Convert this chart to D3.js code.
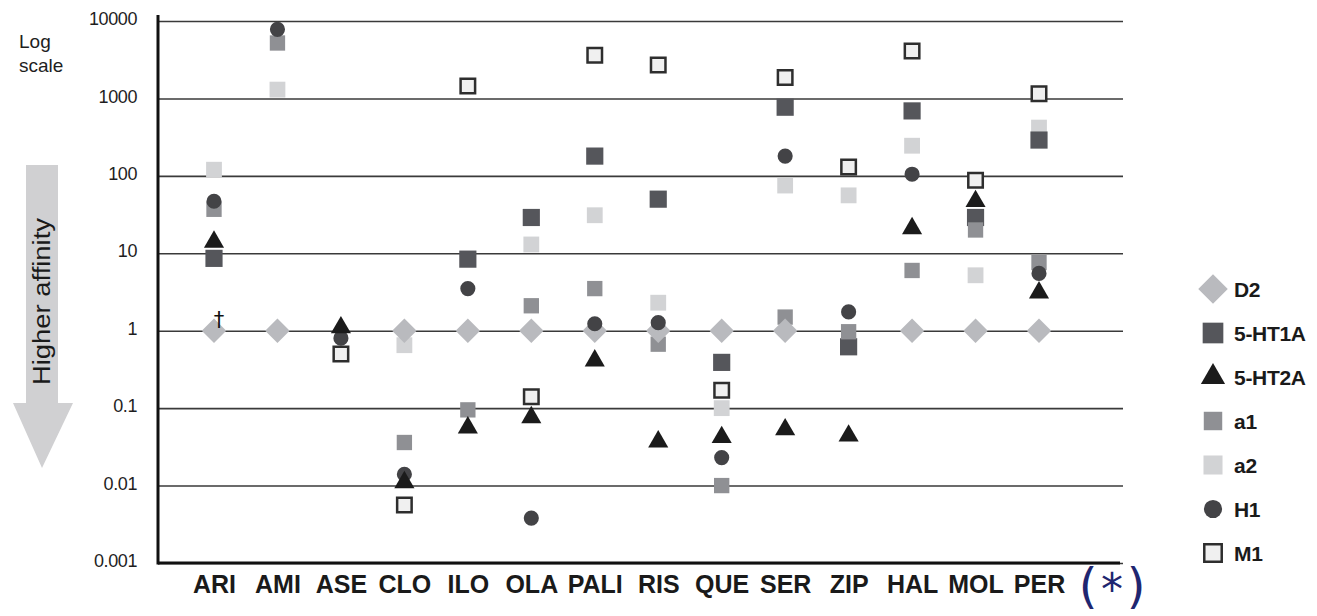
<!DOCTYPE html>
<html>
<head>
<meta charset="utf-8">
<script src="https://cdn.jsdelivr.net/npm/d3@7"></script>
<style>
  body { margin: 0; background: #fff; }
  svg { display: block; font-family: "Liberation Sans", Arial, sans-serif; }
</style>
</head>
<body>
<script>

// drugs on the x axis
var drugs = ["ARI", "AMI", "ASE", "CLO", "ILO", "OLA", "PALI", "RIS", "QUE", "SER", "ZIP", "HAL", "MOL", "PER"];

// affinity relative to D2 (log scale), null = not shown
var d2   = [1, 1, null, 1, 1, 1, 1, 1, 1, 1, null, 1, 1, 1];
var ht1a = [8.6, null, null, null, 8.4, 29, 180, 50, 0.39, 770, 0.62, 690, 29, 290];
var ht2a = [14, null, 1.1, 0.011, 0.056, 0.076, 0.41, 0.037, 0.042, 0.053, 0.044, 21, 47, 3.1];
var a1   = [37, 5200, null, 0.036, 0.095, 2.1, 3.5, 0.67, 0.01, 1.5, 0.97, 6, 20, 7.6];
var a2   = [120, 1300, null, 0.65, null, 13, 31, 2.3, 0.1, 75, 56, 245, 5.2, 420];
var h1   = [47, 7800, 0.8, 0.014, 3.5, 0.0038, 1.23, 1.27, 0.023, 180, 1.75, 105, null, 5.5];
var m1   = [null, null, 0.5, 0.0056, 1450, 0.14, 3600, 2700, 0.17, 1860, 130, 4100, 88, 1150];

var yTicks = [0.001, 0.01, 0.1, 1, 10, 100, 1000, 10000];
var yTickLabels = ["0.001", "0.01", "0.1", "1", "10", "100", "1000", "10000"];

var legendNames = ["D2", "5-HT1A", "5-HT2A", "a1", "a2", "H1", "M1"];

var width = 1317, height = 616;
var margin = { top: 21, right: 194, bottom: 53, left: 158 };

var svg = d3.select("body").append("svg")
  .attr("width", width)
  .attr("height", height);

var xScale = d3.scalePoint()
  .domain(drugs)
  .range([214, 1039]);

var yScale = d3.scaleLog()
  .domain([0.001, 10000])
  .range([height - margin.bottom, margin.top]);

// marker styles
var styles = {
  "D2":     { shape: d3.symbolSquare,   size: 300, fill: "#b9babe", rotate: 45 },
  "5-HT1A": { shape: d3.symbolSquare,   size: 295, fill: "#55565b" },
  "5-HT2A": { shape: d3.symbolTriangle, size: 175, fill: "#1b1b1b" },
  "a1":     { shape: d3.symbolSquare,   size: 235, fill: "#8f9094" },
  "a2":     { shape: d3.symbolSquare,   size: 250, fill: "#d2d3d5" },
  "H1":     { shape: d3.symbolCircle,   size: 180, fill: "#434346" },
  "M1":     { shape: d3.symbolSquare,   size: 210, fill: "#f0f0f0", stroke: "#2e2e2e" }
};

// gridlines
svg.append("g")
  .attr("transform", "translate(" + margin.left + ",0)")
  .call(d3.axisLeft(yScale).tickValues(yTicks).tickSize(-(1123 - margin.left)).tickFormat(""))
  .call(function(g) { g.select(".domain").remove(); })
  .selectAll("line")
  .attr("stroke", "#3a3a3a")
  .attr("stroke-width", 1.6);

// y tick labels
var yAxis = svg.append("g")
  .attr("transform", "translate(" + margin.left + ",0)")
  .call(d3.axisLeft(yScale).tickValues(yTicks).tickSize(0).tickPadding(21)
    .tickFormat(function(d, i) { return yTickLabels[i]; }));
yAxis.select(".domain").remove();
yAxis.selectAll("text")
  .attr("dy", "0.2em")
  .style("font-size", "18px")
  .style("letter-spacing", "-0.4px")
  .attr("fill", "#1e1e1e");

// x labels
var xAxis = svg.append("g")
  .attr("transform", "translate(0," + yScale(0.001) + ")")
  .call(d3.axisBottom(xScale).tickSize(0).tickPadding(12));
xAxis.select(".domain").remove();
xAxis.selectAll("text")
  .style("font-size", "25px")
  .style("font-weight", "bold")
  .attr("fill", "#1a1a1a");

// axis lines
svg.append("line")
  .attr("x1", margin.left).attr("x2", margin.left)
  .attr("y1", 15).attr("y2", yScale(0.001) + 1.5)
  .attr("stroke", "#111").attr("stroke-width", 3);
svg.append("line")
  .attr("x1", margin.left).attr("x2", 1120)
  .attr("y1", yScale(0.001)).attr("y2", yScale(0.001))
  .attr("stroke", "#111").attr("stroke-width", 3);

// points, drawn in this order so overlaps look right
var series = [
  { name: "a2", values: a2 },
  { name: "5-HT1A", values: ht1a },
  { name: "a1", values: a1 },
  { name: "D2", values: d2 },
  { name: "H1", values: h1 },
  { name: "5-HT2A", values: ht2a },
  { name: "M1", values: m1 }
];

series.forEach(function(s) {
  var st = styles[s.name];
  var pts = drugs.map(function(d, i) { return { drug: d, v: s.values[i] }; })
    .filter(function(p) { return p.v != null; });
  svg.append("g").selectAll("path")
    .data(pts)
    .enter().append("path")
    .attr("d", d3.symbol().type(st.shape).size(st.size))
    .attr("transform", function(p) {
      return "translate(" + xScale(p.drug) + "," + yScale(p.v) + ")" + (st.rotate ? " rotate(" + st.rotate + ")" : "");
    })
    .attr("fill", st.fill)
    .attr("stroke", st.stroke || "none")
    .attr("stroke-width", st.stroke ? 2.5 : 0);
});

// dagger next to ARI
svg.append("text")
  .attr("x", xScale("ARI") + 5)
  .attr("y", yScale(1) - 4)
  .attr("text-anchor", "middle")
  .style("font-size", "21px")
  .style("font-family", "DejaVu Sans")
  .attr("fill", "#111")
  .text("†");

// "Log scale"
svg.append("text").attr("x", 19).attr("y", 48)
  .style("font-size", "19px").attr("fill", "#1e1e1e").text("Log");
svg.append("text").attr("x", 19).attr("y", 72)
  .style("font-size", "19px").attr("fill", "#1e1e1e").text("scale");

// grey arrow with "Higher affinity"
svg.append("path")
  .attr("d", "M26,165 L58,165 L58,403 L73,403 L42,468 L13,403 L26,403 Z")
  .attr("fill", "#d0d0d2");
svg.append("text")
  .attr("transform", "translate(50,385) rotate(-90)")
  .attr("textLength", 167)
  .attr("lengthAdjust", "spacingAndGlyphs")
  .style("font-size", "23px")
  .attr("fill", "#1a1a1a")
  .text("Higher affinity");

// legend
var legendY = d3.scalePoint().domain(legendNames).range([289, 553]);
var legend = svg.append("g").selectAll("g")
  .data(legendNames)
  .enter().append("g")
  .attr("transform", function(d) { return "translate(1213," + legendY(d) + ")"; });
legend.append("path")
  .attr("d", function(d) { return d3.symbol().type(styles[d].shape).size(styles[d].size * 1.45)(); })
  .attr("transform", function(d) { return styles[d].rotate ? "rotate(45)" : null; })
  .attr("fill", function(d) { return styles[d].fill; })
  .attr("stroke", function(d) { return styles[d].stroke || "none"; })
  .attr("stroke-width", function(d) { return styles[d].stroke ? 2.5 : 0; });
legend.append("text")
  .attr("x", 21)
  .attr("dy", "0.36em")
  .style("font-size", "21px")
  .style("font-weight", "bold")
  .style("letter-spacing", "-0.3px")
  .attr("fill", "#1a1a1a")
  .text(function(d) { return d; });

// (*) note
var note = svg.append("g").attr("fill", "#1f2670").style("font-family", "DejaVu Sans");
note.append("text").attr("x", 1088).attr("y", 603).attr("text-anchor", "middle")
  .style("font-size", "48px").text("(");
note.append("text").attr("x", 1136).attr("y", 603).attr("text-anchor", "middle")
  .style("font-size", "48px").text(")");
note.append("text").attr("x", 1112).attr("y", 605).attr("text-anchor", "middle")
  .style("font-size", "44px").text("*");

</script>
</body>
</html>
